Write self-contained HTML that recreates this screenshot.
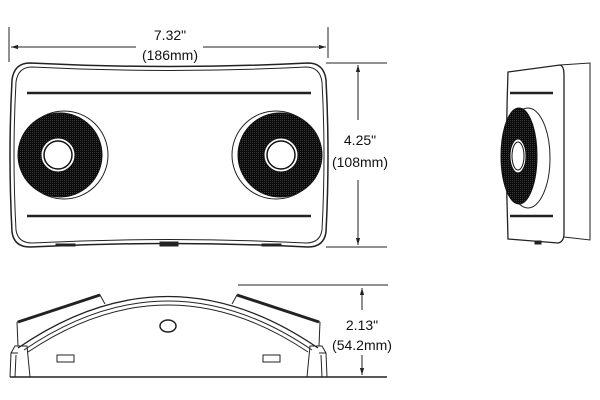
<!DOCTYPE html>
<html><head><style>html,body{margin:0;padding:0;background:#fff}svg{display:block}text{font-family:"Liberation Sans",sans-serif;font-size:14px;fill:#111}</style></head><body>
<svg width="600" height="400" viewBox="0 0 600 400" xmlns="http://www.w3.org/2000/svg">
<defs>
<marker id="a" viewBox="0 0 10 10" refX="10" refY="5" markerWidth="7" markerHeight="7" orient="auto-start-reverse"><path d="M0,2 L10,5 L0,8 z" fill="#222"/></marker>
<pattern id="g" width="2" height="2" patternUnits="userSpaceOnUse"><rect width="2" height="2" fill="#0a0a0a"/><rect width="1" height="1" fill="#3a3a3a"/></pattern>
</defs>
<g stroke="#222" fill="none" stroke-width="1">
<line x1="9" y1="27" x2="9" y2="62"/><line x1="328" y1="27" x2="328" y2="58"/>
<line x1="11" y1="47" x2="136" y2="47" marker-start="url(#a)"/>
<line x1="203" y1="47" x2="326" y2="47" marker-end="url(#a)"/>
<line x1="326" y1="63" x2="387" y2="63"/><line x1="326" y1="247" x2="387" y2="247"/>
<line x1="358" y1="65" x2="358" y2="120" marker-start="url(#a)"/>
<line x1="358" y1="180" x2="358" y2="245" marker-end="url(#a)"/>
<path d="M30,63 Q170,70 308,63 Q324,63 326,80 Q330,155 326,232 Q324,247 308,247 Q170,240 30,247 Q14,247 12,232 Q8,155 12,80 Q14,63 30,63 Z" stroke-width="1.5"/>
<path d="M32,67 Q170,74 306,67 Q320,67 322,82 Q326,155 322,230 Q320,243 306,243 Q170,236 32,243 Q18,243 16,230 Q12,155 16,82 Q18,67 32,67 Z"/>
<line x1="27" y1="93" x2="311" y2="93" stroke-width="2.5"/>
<line x1="27" y1="216" x2="311" y2="216" stroke-width="2.5"/>
<circle cx="64" cy="155" r="44"/>
<circle cx="60" cy="155" r="42" fill="url(#g)" stroke="#111"/>
<circle cx="58" cy="155" r="17" fill="#fff" stroke="#111" stroke-width="1"/>
<circle cx="58" cy="155" r="14" stroke="#111" stroke-width="1.5"/>
<circle cx="276" cy="155" r="44"/>
<circle cx="280" cy="155" r="42" fill="url(#g)" stroke="#111"/>
<circle cx="281" cy="155" r="17" fill="#fff" stroke="#111"/>
<circle cx="281" cy="155" r="14" stroke="#111" stroke-width="1.5"/>
<rect x="56" y="244" width="19" height="2" fill="#222"/><rect x="160" y="242" width="18" height="4" fill="#222"/><rect x="262" y="244" width="19" height="2" fill="#222"/>
<path d="M508,72 L560,65 Q564,66 564,75 L564,233 Q564,242 558,243 L508,239 Q505,155 508,72 Z" stroke-width="1.3"/>
<path d="M560,65 L590,63 L590,240 L564,237"/>
<line x1="510" y1="93" x2="553" y2="93" stroke-width="2.5"/>
<line x1="510" y1="216" x2="553" y2="216" stroke-width="2.5"/>
<ellipse cx="528" cy="158" rx="22" ry="50"/>
<ellipse cx="519" cy="156" rx="18" ry="48" fill="url(#g)" stroke="#111"/>
<ellipse cx="518" cy="156" rx="8" ry="17" fill="#fff" stroke="#111"/>
<ellipse cx="518" cy="156" rx="6" ry="14" stroke="#111"/>
<rect x="535" y="241" width="6" height="3" fill="#222"/>
<line x1="10" y1="377" x2="387" y2="377" stroke-width="1.5"/>
<line x1="238" y1="285" x2="388" y2="285"/>
<line x1="362" y1="288" x2="362" y2="310" marker-start="url(#a)"/>
<line x1="362" y1="355" x2="362" y2="375" marker-end="url(#a)"/>
<path d="M18,348 Q168,245 318,348" stroke-width="1.3"/>
<path d="M24,350 Q168,252 312,350"/>
<path d="M28,352 Q168,258 308,352"/>
<path d="M17,322 L100,295 L105,304"/>
<line x1="18" y1="322" x2="100" y2="295" stroke-width="3"/>
<path d="M17,322 L18,346"/>
<path d="M320,322 L237,295 L232,304"/>
<line x1="319" y1="322" x2="237" y2="295" stroke-width="3"/>
<path d="M320,322 L319,346"/>
<path d="M10,377 L11,353 L15,346 L27,346 L30,377 M16,355 L15,377 M11,353 L18,353"/>
<path d="M327,377 L326,353 L322,346 L310,346 L307,377 M321,355 L322,377 M326,353 L319,353"/>
<ellipse cx="168" cy="326" rx="8" ry="6" stroke-width="1.5"/>
<rect x="57" y="355" width="17" height="7"/><rect x="263" y="355" width="17" height="7"/>
</g>
<text x="170" y="40" text-anchor="middle">7.32"</text>
<text x="170" y="60" text-anchor="middle">(186mm)</text>
<text x="360" y="145" text-anchor="middle">4.25"</text>
<text x="360" y="167" text-anchor="middle">(108mm)</text>
<text x="362" y="330" text-anchor="middle">2.13"</text>
<text x="362" y="350" text-anchor="middle">(54.2mm)</text>
</svg>
</body></html>
